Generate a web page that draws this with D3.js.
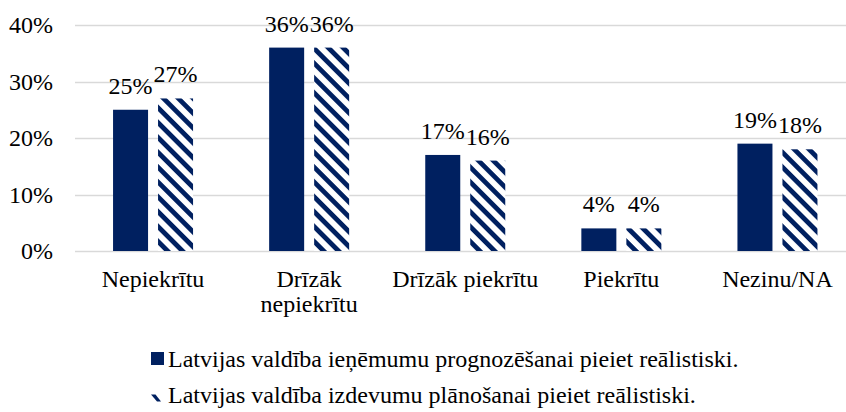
<!DOCTYPE html>
<html>
<head>
<meta charset="utf-8">
<script src="https://cdn.jsdelivr.net/npm/d3@7"></script>
</head>
<body style="margin:0">
<script>
var categories = ["Nepiekrītu", "Drīzāk nepiekrītu", "Drīzāk piekrītu", "Piekrītu", "Nezinu/NA"];
var categoryLines = [["Nepiekrītu"], ["Drīzāk", "nepiekrītu"], ["Drīzāk piekrītu"], ["Piekrītu"], ["Nezinu/NA"]];
var seriesNames = [
    "Latvijas valdība ieņēmumu prognozēšanai pieiet reālistiski.",
    "Latvijas valdība izdevumu plānošanai pieiet reālistiski."
];
var revenueValues = [0.25, 0.36, 0.17, 0.04, 0.19];
var spendingValues = [0.27, 0.36, 0.16, 0.04, 0.18];
var yTicks = [0, 0.1, 0.2, 0.3, 0.4];

(function () {
    var width = 846,
        height = 412,
        navy = "#002060",
        fontFamily = "Liberation Serif",
        fontSize = 24;

    var svg = d3.select("body").append("svg")
        .attr("width", width)
        .attr("height", height)
        .style("display", "block");

    // diagonal stripes for the second series
    var defs = svg.append("defs");
    var pat = defs.append("pattern")
        .attr("id", "stripes")
        .attr("patternUnits", "userSpaceOnUse")
        .attr("width", 10.5)
        .attr("height", 10.5)
        .attr("patternTransform", "rotate(45)");
    pat.append("rect").attr("width", 10.5).attr("height", 10.5).attr("fill", "#fff");
    pat.append("rect").attr("width", 10.5).attr("height", 4.8).attr("fill", navy);

    var x0 = d3.scaleBand()
        .domain(categories)
        .range([75, 855.5])
        .paddingInner(0.4875)
        .paddingOuter(0.4875 / 2);

    var x1 = d3.scaleBand()
        .domain([0, 1])
        .range([0, x0.bandwidth()])
        .paddingInner(0.222);

    var y = d3.scaleLinear()
        .domain([0, 0.4])
        .range([251, 25]);

    // gridlines
    svg.append("g")
        .selectAll("line")
        .data(yTicks)
        .enter().append("line")
        .attr("x1", 75)
        .attr("x2", 856)
        .attr("y1", function (d) { return Math.round(y(d)) + 0.5; })
        .attr("y2", function (d) { return Math.round(y(d)) + 0.5; })
        .attr("stroke", "#d9d9d9")
        .attr("stroke-width", 1.3);

    // y axis labels
    var yAxis = svg.append("g")
        .attr("transform", "translate(53,0)")
        .call(d3.axisLeft(y).tickValues(yTicks).tickFormat(d3.format(".0%")).tickSize(0).tickPadding(0));
    yAxis.attr("font-family", null).attr("font-size", null);
    yAxis.select(".domain").remove();
    yAxis.selectAll("text")
        .attr("font-family", fontFamily)
        .attr("font-size", fontSize)
        .attr("fill", "#000")
        .attr("dy", "0.33em");

    var series = [
        { name: seriesNames[0], values: revenueValues, fill: navy },
        { name: seriesNames[1], values: spendingValues, fill: "url(#stripes)" }
    ];

    var groups = svg.append("g")
        .selectAll("g")
        .data(categories)
        .enter().append("g")
        .attr("transform", function (d) { return "translate(" + x0(d) + ",0)"; });

    groups.selectAll("rect")
        .data(function (d, i) {
            return series.map(function (s, j) { return { s: j, v: s.values[i], fill: s.fill }; });
        })
        .enter().append("rect")
        .attr("x", function (d) { return x1(d.s); })
        .attr("width", x1.bandwidth())
        .attr("y", function (d) { return y(d.v); })
        .attr("height", function (d) { return y(0) - y(d.v); })
        .attr("fill", function (d) { return d.fill; });

    groups.selectAll("text.val")
        .data(function (d, i) {
            return series.map(function (s, j) { return { s: j, v: s.values[i] }; });
        })
        .enter().append("text")
        .attr("class", "val")
        .attr("x", function (d) { return x1(d.s) + x1.bandwidth() / 2; })
        .attr("y", function (d) { return y(d.v) - 16; })
        .attr("text-anchor", "middle")
        .attr("font-family", fontFamily)
        .attr("font-size", fontSize)
        .text(function (d) { return d3.format(".0%")(d.v); });

    // category labels
    svg.append("g")
        .selectAll("text")
        .data(categories)
        .enter().append("text")
        .attr("x", function (d) { return x0(d) + x0.bandwidth() / 2; })
        .attr("y", 287)
        .attr("text-anchor", "middle")
        .attr("font-family", fontFamily)
        .attr("font-size", fontSize)
        .each(function (d, i) {
            var t = d3.select(this);
            categoryLines[i].forEach(function (line, k) {
                t.append("tspan")
                    .attr("x", x0(d) + x0.bandwidth() / 2)
                    .attr("dy", k === 0 ? 0 : 25)
                    .text(line);
            });
        });

    // legend
    var legend = svg.append("g")
        .selectAll("g")
        .data(series)
        .enter().append("g")
        .attr("transform", function (d, i) { return "translate(151," + (367 + i * 36) + ")"; });

    // solid marker for the first series, a single stripe piece for the second
    legend.filter(function (d, i) { return i === 0; })
        .append("rect")
        .attr("x", 0)
        .attr("y", -15)
        .attr("width", 13)
        .attr("height", 13)
        .attr("fill", navy);

    legend.filter(function (d, i) { return i === 1; })
        .append("path")
        .attr("d", "M0,-8.5L4.5,-8.5L10,-1.5L6,-1.5Z")
        .attr("fill", navy);

    legend.append("text")
        .attr("x", 17)
        .attr("y", 0)
        .attr("font-family", fontFamily)
        .attr("font-size", fontSize)
        .text(function (d) { return d.name; });
}());
</script>
</body>
</html>
